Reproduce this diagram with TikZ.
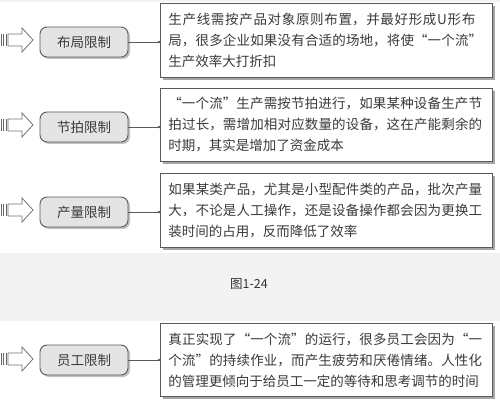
\documentclass[tikz,border=0pt]{standalone}
\usepackage{fontspec}
\usetikzlibrary{shadows}
\newfontfamily\cjk{Noto Sans CJK SC}
\XeTeXlinebreaklocale "zh"
\XeTeXlinebreakskip=0pt plus 2pt
\definecolor{txt}{HTML}{3A3A3A}
\definecolor{edge}{HTML}{5A5A5A}
\definecolor{band}{HTML}{F3F3F3}
\definecolor{labfill}{HTML}{E4E4E4}
\tikzset{
  descbox/.style={draw=edge, line width=0.9pt, fill=white, anchor=north west,
    text width=316pt, inner xsep=8pt, inner ysep=0pt, minimum width=332pt,
    text=txt, font=\cjk\fontsize{13.5}{21}\selectfont,
    drop shadow={shadow xshift=2.5pt, shadow yshift=-2.5pt, fill=black!35, opacity=1}},
  labbox/.style={draw=edge, line width=0.9pt, rounded corners=7pt, fill=labfill,
    minimum width=88pt, minimum height=30pt, inner sep=0pt, text=txt,
    font=\cjk\fontsize{13.5}{16}\selectfont,
    drop shadow={shadow xshift=2pt, shadow yshift=-2pt, fill=black!30, opacity=0.8}},
  conn/.style={draw=edge, line width=0.8pt},
  dotend/.style={fill=edge, draw=none},
  barrow/.style={draw=black!55, line width=0.8pt, fill=white},
  stripe/.style={draw=black!60, line width=0.9pt},
}
\newcommand{\blockarrow}[1]{%
  \begin{scope}[shift={(#1)}]
    \draw[stripe] (1,-6) -- (1,6);
    \draw[stripe] (3.5,-6) -- (3.5,6);
    \draw[stripe] (6,-6) -- (6,6);
    \draw[barrow] (8,-6) -- (22,-6) -- (22,-12) -- (33,0) -- (22,12) -- (22,6) -- (8,6) -- cycle;
  \end{scope}}
\begin{document}
\begin{tikzpicture}[x=1pt,y=-1pt]
\useasboundingbox (0,0) rectangle (500,403);
\fill[band] (0,0) rectangle (500,403);
\fill[white] (0,2) rectangle (500,253);
\fill[white] (0,321) rectangle (500,403);

% boxes
\node[descbox, minimum height=74pt] (b1) at (160,3) {%
生产线需按产品对象原则布置，并最好形成U形布\linebreak
局，很多企业如果没有合适的场地，将使“一个流”\linebreak
生产效率大打折扣};
\node[descbox, minimum height=73pt] (b2) at (160,88) {%
“一个流”生产需按节拍进行，如果某种设备生产节\linebreak
拍过长，需增加相对应数量的设备，这在产能剩余的\linebreak
时期，其实是增加了资金成本};
\node[descbox, minimum height=74pt] (b3) at (160,173) {%
如果某类产品，尤其是小型配件类的产品，批次产量\linebreak
大，不论是人工操作，还是设备操作都会因为更换工\linebreak
装时间的占用，反而降低了效率};
\node[descbox, minimum height=73pt] (b4) at (160,323) {%
真正实现了“一个流”的运行，很多员工会因为“一\linebreak
个流”的持续作业，而产生疲劳和厌倦情绪。人性化\linebreak
的管理更倾向于给员工一定的等待和思考调节的时间};

% labels
\node[labbox] (l1) at (84,42) {布局限制};
\node[labbox] (l2) at (84,127) {节拍限制};
\node[labbox] (l3) at (84,212) {产量限制};
\node[labbox] (l4) at (84,360) {员工限制};

% connectors
\foreach \i in {1,2,3,4}{
  \draw[conn] (l\i.east) -- (l\i.east -| b\i.west);
  \fill[dotend] (l\i.east -| b\i.west) ++(-1,0) circle (1.4pt);
}

% block arrows
\blockarrow{0,40}
\blockarrow{0,125}
\blockarrow{0,210}
\blockarrow{0,359}

% caption
\node[text=black!80, font=\cjk\fontsize{12.5}{15}\selectfont] (cap) at (249,284) {图1-24};
\end{tikzpicture}
\end{document}
